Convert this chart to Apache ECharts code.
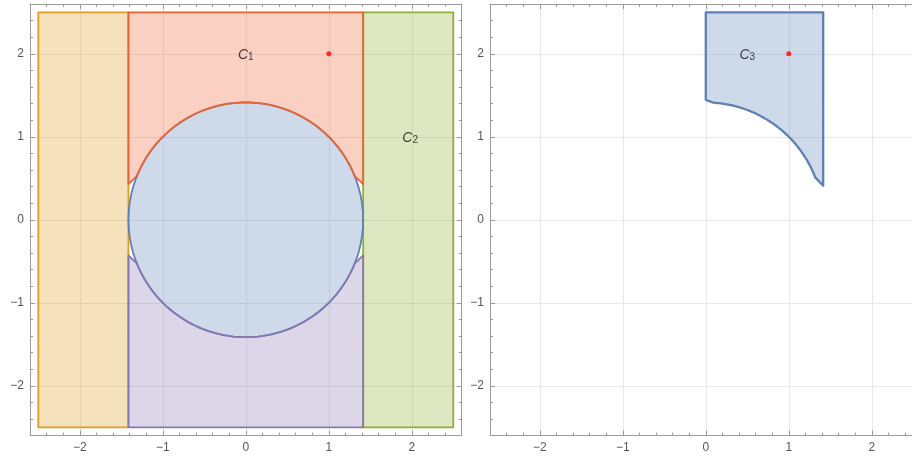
<!DOCTYPE html>
<html><head><meta charset="utf-8">
<script src="https://cdn.jsdelivr.net/npm/echarts@6/dist/echarts.min.js"></script>
<style>html,body{margin:0;padding:0;background:#fff}#c{width:912px;height:458px}</style>
</head><body><div id="c"></div>
<script>
// ---- data ----
const axisMin = -2.6, axisMax = 2.6;
const tickValues = [-2, -1, 0, 1, 2];
const tickLabels = ['\u22122', '\u22121', '0', '1', '2'];
const circle = { cx: 0, cy: 0, r: 1.4142 };
// polygons: [x,y] vertices, {arc:[fromDeg,toDeg]} = run along the circle
const orangeRegion = [[-2.5, -2.5], [-1.4142, -2.5], [-1.4142, 2.5], [-2.5, 2.5]];
const greenRegion  = [[1.4142, -2.5], [2.5, -2.5], [2.5, 2.5], [1.4142, 2.5]];
const blueCircle   = [{ arc: [0, 360] }];
const redRegion    = [[-1.4142, 2.5], [1.4142, 2.5], [1.4142, 0.43], { arc: [21.8, 158.2] }, [-1.4142, 0.43]];
const purpleRegion = [[-1.4142, -2.5], [1.4142, -2.5], [1.4142, -0.43], { arc: [-21.8, -158.2] }, [-1.4142, -0.43]];
const c3Region     = [[0, 2.5], [1.4142, 2.5], [1.4142, 0.41], { arc: [21.2, 86.3] }, [0, 1.445]];
const redPoint = [1, 2];
const labelsLeft  = [{ name: '1', pos: [0, 2] }, { name: '2', pos: [1.98, 1.0] }];
const labelsRight = [{ name: '3', pos: [0.5, 2] }];

// ---- helpers ----
function expand(verts) {
  const pts = [];
  verts.forEach(v => {
    if (Array.isArray(v)) { pts.push(v); return; }
    const n = 90;
    for (let i = 0; i <= n; i++) {
      const a = (v.arc[0] + (v.arc[1] - v.arc[0]) * i / n) * Math.PI / 180;
      pts.push([circle.cx + circle.r * Math.cos(a), circle.cy + circle.r * Math.sin(a)]);
    }
  });
  return pts;
}
function poly(verts, gi, fill, stroke, lw) {
  return {
    type: 'custom', xAxisIndex: gi * 2, yAxisIndex: gi * 2, data: [[0, 0]], silent: true,
    renderItem: (params, api) => ({
      type: 'polygon',
      shape: { points: expand(verts).map(p => api.coord(p)) },
      style: { fill: fill, stroke: stroke, lineWidth: lw, lineJoin: 'round' }
    })
  };
}
function fmt(v) {
  const i = tickValues.findIndex(t => Math.abs(t - v) < 1e-9);
  return i >= 0 ? tickLabels[i] : '';
}
const axisCol = '#9a9a9a';
function axis(gi, pos, main) {
  return {
    type: 'value', gridIndex: gi, position: pos, min: axisMin, max: axisMax,
    minInterval: 1, maxInterval: 1,
    axisLine: { show: true, onZero: false, lineStyle: { color: axisCol, width: 1 } },
    axisTick: { show: true, inside: true, length: 5, lineStyle: { color: axisCol } },
    minorTick: { show: true, splitNumber: 5, length: 3, lineStyle: { color: axisCol } },
    splitLine: { show: main, lineStyle: { color: '#e8e8e8', width: 1 } },
    axisLabel: { show: main, showMinLabel: false, showMaxLabel: false, color: '#555',
      fontSize: 12, fontFamily: 'Liberation Sans', margin: 6, formatter: fmt }
  };
}
const rich = {
  i: { fontStyle: 'italic', fontSize: 14, fontFamily: 'Liberation Sans', color: '#111', verticalAlign: 'bottom' },
  s: { fontSize: 10, fontFamily: 'Liberation Sans', color: '#111', padding: [7, 0, 0, 0], verticalAlign: 'bottom' }
};
function labelSeries(list, gi) {
  return {
    type: 'scatter', xAxisIndex: gi * 2, yAxisIndex: gi * 2, symbolSize: 0, silent: true,
    data: list.map(l => ({ value: l.pos, name: l.name })),
    label: { show: true, position: 'inside', formatter: p => '{i|C}{s|' + p.name + '}', rich: rich }
  };
}
function dot(gi) {
  return { type: 'scatter', xAxisIndex: gi * 2, yAxisIndex: gi * 2, symbolSize: 5, silent: true,
    itemStyle: { color: '#ff0000' }, data: [redPoint] };
}

const chart = echarts.init(document.getElementById('c'), null, { renderer: 'canvas' });
chart.setOption({
  animation: false,
  grid: [
    { left: 30, top: 4, width: 431.6, height: 431.6, outerBoundsMode: 'none', containLabel: false },
    { left: 490, top: 4, width: 431.6, height: 431.6, outerBoundsMode: 'none', containLabel: false }
  ],
  xAxis: [axis(0, 'bottom', true), axis(0, 'top', false), axis(1, 'bottom', true), axis(1, 'top', false)],
  yAxis: [axis(0, 'left', true), axis(0, 'right', false), axis(1, 'left', true), axis(1, 'right', false)],
  series: [
    poly(orangeRegion, 0, 'rgba(225,156,36,0.3)', '#E19C24', 1.8),
    poly(greenRegion, 0, 'rgba(143,176,50,0.3)', '#8FB032', 1.8),
    poly(blueCircle, 0, 'rgba(94,129,181,0.3)', '#5E81B5', 1.8),
    poly(redRegion, 0, 'rgba(235,98,53,0.3)', '#EB6235', 1.8),
    poly(purpleRegion, 0, 'rgba(135,120,179,0.3)', '#8778B3', 1.8),
    poly(c3Region, 1, 'rgba(94,129,181,0.3)', '#5E81B5', 2.3),
    dot(0), dot(1),
    labelSeries(labelsLeft, 0), labelSeries(labelsRight, 1)
  ]
});
</script></body></html>
